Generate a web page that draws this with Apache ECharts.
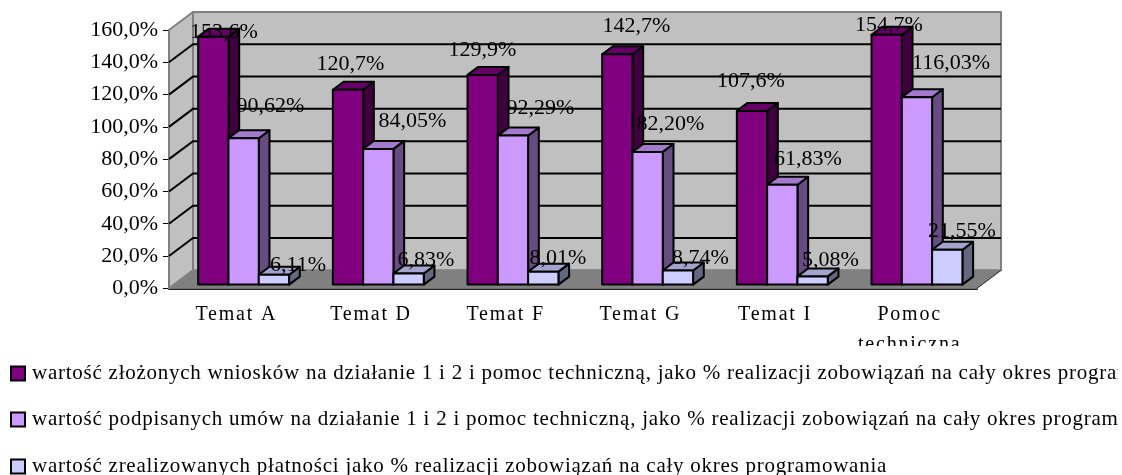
<!DOCTYPE html>
<html><head><meta charset="utf-8">
<style>html,body{margin:0;padding:0;background:#fff}#c{width:1122px;height:475px}</style>
<script src="https://cdn.jsdelivr.net/npm/echarts@6/dist/echarts.min.js"></script>
</head><body><div id="c"></div>
<script>
const categories = ['Temat A','Temat D','Temat F','Temat G','Temat I','Pomoc\ntechniczna'];
const ticks = [0,20,40,60,80,100,120,140,160];
const wnioski = [153.6,120.7,129.9,142.7,107.6,154.7];
const umowy = [90.62,84.05,92.29,82.20,61.83,116.03];
const platnosci = [6.11,6.83,8.01,8.74,5.08,21.55];
const names = [
 'wartość złożonych wniosków na działanie 1 i 2 i pomoc techniczną, jako % realizacji zobowiązań na cały okres programowania',
 'wartość podpisanych umów na działanie 1 i 2 i pomoc techniczną, jako % realizacji zobowiązań na cały okres programowania',
 'wartość zrealizowanych płatności jako % realizacji zobowiązań na cały okres programowania'
];
// hand-placed label shifts, as in the reference
const shift1 = [[-12.3,-8.6],[-20.5,-29.7],[-23.2,-28.3],[-3.8,-32.2],[-24,-33.1],[-20.7,-12.9]];
const shift2 = [[34.2,-36.2],[41.5,-31.8],[34.8,-31.5],[30.2,-31.5],[33,-29.6],[41.3,-38.2]];
const shift3 = [[61.7,-13.4],[55,-17.3],[52.3,-16.7],[60.2,-16.2],[55.5,-20.1],[52.3,-22.5]];

const FONT = '"Liberation Serif"';
const WALL = {dx:24, dy:-18};
const BAR = {dx:10.7, dy:-8, sx:7.3, sy:-3.7, frac:0.225};
const LEGEND_TOPS = [363,409,456];

// the reference's text is letter-spaced; canvas supports that per context
const SPACING = {'21px':'0.75px','20px':'1.8px'};
const origFill = CanvasRenderingContext2D.prototype.fillText;
CanvasRenderingContext2D.prototype.fillText = function(t,x,y,m){
  const match = /(\d+)px/.exec(this.font);
  this.letterSpacing = (match && SPACING[match[1]+'px']) || '0px';
  const r = m===undefined ? origFill.call(this,t,x,y) : origFill.call(this,t,x,y,m);
  this.letterSpacing = '0px';
  return r;
};

const chart = echarts.init(document.getElementById('c'), null, {renderer:'canvas'});

function poly(pts, fill, stroke, w){
  return {type:'polygon', shape:{points:pts}, style:{fill:fill, stroke:stroke, lineWidth:w, lineJoin:'round'}};
}
function wallRender(params, api){
  const g = params.coordSys;
  const L=g.x, R=g.x+g.width, T=g.y, B=g.y+g.height, dx=WALL.dx, dy=WALL.dy;
  return {type:'group', children:[
    poly([[L+dx,T+dy],[R+dx,T+dy],[R+dx,B+dy],[L+dx,B+dy]],'#C0C0C0','#808080',2),
    poly([[L,T],[L+dx,T+dy],[L+dx,B+dy],[L,B]],'#C0C0C0','#808080',2),
    poly([[L,B],[L+dx,B+dy],[R+dx,B+dy],[R,B]],'#808080','#808080',1),
    {type:'line',shape:{x1:R,y1:B,x2:R+dx,y2:B+dy},style:{stroke:'#333',lineWidth:1}}
  ]};
}
function gridRender(params, api){
  const g = params.coordSys;
  const y = api.coord([0, api.value(0)])[1];
  const L=g.x, R=g.x+g.width, dx=WALL.dx, dy=WALL.dy;
  return {type:'polyline', shape:{points:[[L,y],[L+dx,y+dy],[R+dx,y+dy]]}, style:{fill:'none',stroke:'#000',lineWidth:2}};
}
function barSeries(idx, values, shifts, front, side, top, digits){
  return {
    type:'custom', name:names[idx], z:3,
    coordinateSystem:'cartesian2d',
    itemStyle:{color:front, borderColor:'#000', borderWidth:2},
    encode:{x:0,y:1},
    silent:true,
    data: values.map((v,i)=>[i,v]),
    renderItem(params, api){
      const i = api.value(0), v = api.value(1);
      const c = api.coord([i,v]), b = api.coord([i,0]);
      const w = api.size([1,0])[0]*BAR.frac;
      const x0 = c[0]-1.5*w+idx*w+BAR.sx, x1 = x0+w;
      const yt = c[1]+BAR.sy, yb = b[1]+BAR.sy;
      const dx=BAR.dx, dy=BAR.dy;
      const s = shifts[i];
      return {type:'group', children:[
        poly([[x1,yt],[x1+dx,yt+dy],[x1+dx,yb+dy],[x1,yb]],side,'#000',2),
        poly([[x0,yt],[x0+dx,yt+dy],[x1+dx,yt+dy],[x1,yt]],top,'#000',2),
        poly([[x0,yt],[x1,yt],[x1,yb],[x0,yb]],front,'#000',2),
        {type:'text', z2:100, style:{x:c[0]+s[0], y:c[1]+s[1],
          text:v.toFixed(digits).replace('.',',')+'%', fill:'#000',
          font:'22px '+FONT, align:'center', verticalAlign:'middle'}}
      ]};
    }
  };
}

chart.setOption({
  animation:false,
  backgroundColor:'#fff',
  grid:{left:169, top:30, width:808, height:258.3, containLabel:false},
  tooltip:{show:false},
  legend:names.map((n,i)=>({
    orient:'horizontal', left:10, top:LEGEND_TOPS[i], width:1600, itemWidth:14, itemHeight:14, padding:0,
    icon:'rect', selectedMode:false, data:[n],
    itemStyle:{borderColor:'#000',borderWidth:2},
    textStyle:{fontFamily:FONT, fontSize:21, color:'#000', padding:[0,0,0,2]}
  })),
  xAxis:{type:'category', data:categories,
    axisLine:{lineStyle:{color:'#222',width:2}},
    axisTick:{length:7,lineStyle:{color:'#444',width:1}},
    axisLabel:{fontFamily:FONT,fontSize:20,color:'#000',margin:11,lineHeight:30,interval:0},
    splitLine:{show:false}
  },
  yAxis:{type:'value', min:0, max:160, interval:20,
    axisLine:{show:true,lineStyle:{color:'#808080',width:2}},
    axisTick:{show:true,length:6,lineStyle:{color:'#000',width:1}},
    axisLabel:{fontFamily:FONT,fontSize:22,color:'#000',margin:11,padding:[4,0,0,0],
      formatter:v=>v.toFixed(1).replace('.',',')+'%'},
    splitLine:{show:false}
  },
  graphic:[
    {type:'rect',z:100,shape:{x:790,y:346,width:220,height:14},style:{fill:'#fff'}},
    {type:'rect',z:100,shape:{x:1118,y:355,width:4,height:120},style:{fill:'#fff'}}
  ],
  series:[
    {type:'custom',z:1,silent:true,data:[[0,0]],renderItem:wallRender,encode:{x:0,y:1}},
    {type:'custom',z:2,silent:true,data:ticks.slice(1,-1).map(t=>[t]),renderItem:gridRender,encode:{y:0}},
    barSeries(0,wnioski,shift1,'#800080','#400040','#660066',1),
    barSeries(1,umowy,shift2,'#CC99FF','#664C80','#A37ACC',2),
    barSeries(2,platnosci,shift3,'#CCCCFF','#666680','#A3A3CC',2)
  ]
});
</script></body></html>
